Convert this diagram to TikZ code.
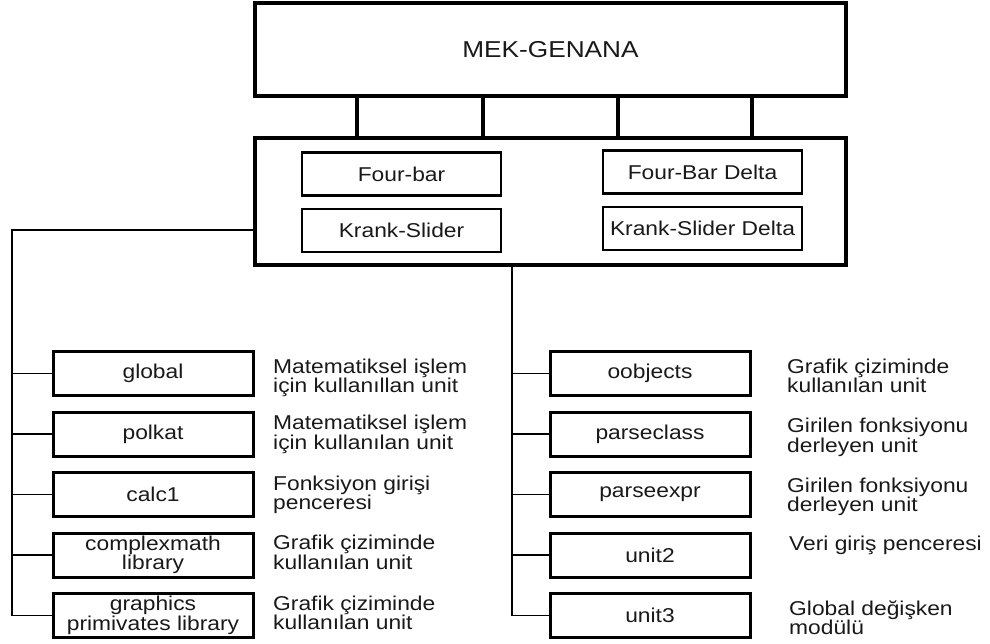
\documentclass[tikz,border=0pt]{standalone}
\usepackage{fontspec}
\setmainfont[FakeStretch=1.14]{Liberation Sans}
\usepackage{tikz}
\usetikzlibrary{positioning}

\begin{document}
\begin{tikzpicture}[
    x=1pt, y=-1pt,
    node distance=16.5pt,
    font=\fontsize{20}{19.5}\selectfont,
    text=black!90,
    frame/.style={rectangle, draw, line width=4pt, outer sep=0pt, minimum width=591pt},
    mech/.style={rectangle, draw, line width=2.8pt, outer sep=0pt, minimum width=199pt, minimum height=43pt},
    unitbox/.style={rectangle, draw, line width=3pt, outer sep=0pt, minimum width=200pt, minimum height=44pt, align=center, inner sep=0pt},
    note/.style={anchor=north west, align=left, inner sep=0pt},
    bus/.style={line width=4.5pt},
    wire/.style={line width=1.3pt}
]
\useasboundingbox (0,0) rectangle (990,643);

% main program and the mechanism modules
\node[frame, minimum height=93pt, font=\fontsize{23}{24}\selectfont] (gen) at (550.5,49.5) {MEK-GENANA};
\node[frame, minimum height=127pt] (sel) at (550.5,201.5) {};
\foreach \x in {357,483,618,752}
    \draw[bus] (gen.south -| \x,0) -- (sel.north -| \x,0);

\node[mech] (fourbar) at (401.5,174) {Four-bar};
\node[mech, below=13.5pt of fourbar] (kslider) {Krank-Slider};
\node[mech] (fbdelta) at (702.5,172) {Four-Bar Delta};
\node[mech, below=13.5pt of fbdelta] (ksdelta) {Krank-Slider Delta};

% left column of units
\node[unitbox] (global) at (153,373.5) {global};
\node[unitbox, below=of global] (polkat) {polkat};
\node[unitbox, below=of polkat] (calc) {calc1};
\node[unitbox, below=of calc] (cmath) {complexmath\\library};
\node[unitbox, below=of cmath] (gprim) {graphics\\primivates library};

\node[note] (n-global) at ([shift={(20pt,-7pt)}]global.north east) {Matematiksel işlem\\için kullanıllan unit};
\node[note] (n-polkat) at ([shift={(20pt,-3pt)}]polkat.north east) {Matematiksel işlem\\ için kullanılan unit};
\node[note] (n-calc) at ([shift={(20pt,-3pt)}]calc.north east) {Fonksiyon girişi\\penceresi};
\node[note] (n-cmath) at ([shift={(20pt,-2pt)}]cmath.north east) {Grafik çiziminde\\ kullanılan unit};
\node[note] (n-gprim) at ([shift={(20pt,-2pt)}]gprim.north east) {Grafik çiziminde\\kullanılan unit};

% right column of units
\node[unitbox] (oobjects) at (650,373.5) {oobjects};
\node[unitbox, below=of oobjects] (pclass) {parseclass};
\node[unitbox, below=of pclass] (pexpr) {parseexpr};
\node[unitbox, below=of pexpr] (unit2) {unit2};
\node[unitbox, below=of unit2] (unit3) {unit3};

\node[note] (n-oobjects) at ([shift={(37pt,-7pt)}]oobjects.north east) {Grafik çiziminde\\kullanılan unit};
\node[note] (n-pclass) at ([shift={(37pt,-6pt)}]pclass.north east) {Girilen fonksiyonu\\derleyen unit};
\node[note] (n-pexpr) at ([shift={(37pt,-5pt)}]pexpr.north east) {Girilen fonksiyonu\\derleyen unit};
\node[note] (n-unit2) at ([shift={(39pt,-3pt)}]unit2.north east) {Veri giriş penceresi};
\node[note] (n-unit3) at ([shift={(39pt,-7pt)}]unit3.north east) {Global değişken\\ modülü};

% connectors
\coordinate (ltrunk) at (12,230);
\coordinate (rtrunk) at (512,0);
\draw[wire] (sel.west |- ltrunk) -- (ltrunk) |- (gprim.west);
\foreach \n in {global,polkat,calc,cmath}
    \draw[wire] (ltrunk |- \n.west) -- (\n.west);
\draw[wire] (sel.south -| rtrunk) |- (unit3.west);
\foreach \n in {oobjects,pclass,pexpr,unit2}
    \draw[wire] (rtrunk |- \n.west) -- (\n.west);

\end{tikzpicture}
\end{document}
